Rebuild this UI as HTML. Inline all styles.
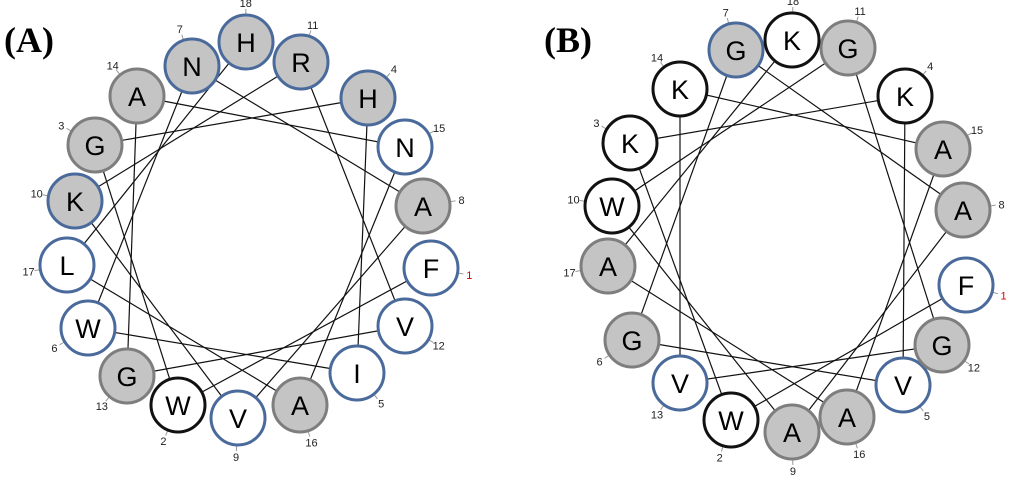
<!DOCTYPE html>
<html><head><meta charset="utf-8"><style>
body{margin:0;background:#fff;width:1024px;height:488px;overflow:hidden}
svg{display:block}
</style></head><body>
<svg id="s" width="1024" height="488" xmlns="http://www.w3.org/2000/svg">
<text x="4" y="52" font-family="Liberation Serif,serif" font-weight="bold" font-size="36">(A)</text>
<text x="544" y="52" font-family="Liberation Serif,serif" font-weight="bold" font-size="36">(B)</text>
</svg>
<script>
var ns="http://www.w3.org/2000/svg",s=document.getElementById('s');
function el(t,a,txt){var e=document.createElementNS(ns,t);for(var k in a)e.setAttribute(k,a[k]);if(txt!=null)e.textContent=txt;s.appendChild(e);return e;}
var A={c:[247,234],r:[
[1,'F',431,268,'wb'],[2,'W',178,405,'wk'],[3,'G',95,145,'g'],[4,'H',368,98,'gb'],[5,'I',357,373,'wb'],
[6,'W',88,328,'wb'],[7,'N',192,66,'gb'],[8,'A',423,206,'g'],[9,'V',238,418,'wb'],[10,'K',75,201,'gb'],
[11,'R',301,62,'gb'],[12,'V',405,326,'wb'],[13,'G',127,376,'g'],[14,'A',137,96,'g'],[15,'N',405,147,'wb'],
[16,'A',300,405,'g'],[17,'L',67,265,'wb'],[18,'H',246,42,'gb']]};
var B={c:[787,236],r:[
[1,'F',966,285,'wb'],[2,'W',731,420,'wk'],[3,'K',630,143,'wk'],[4,'K',905,96,'wk'],[5,'V',903,385,'wb'],
[6,'G',632,340,'g'],[7,'G',736,50,'gb'],[8,'A',963,210,'g'],[9,'A',792,432,'g'],[10,'W',612,206,'wk'],
[11,'G',848,48,'g'],[12,'G',942,345,'g'],[13,'V',680,383,'wb'],[14,'K',680,89,'wk'],[15,'A',943,149,'g'],
[16,'A',847,417,'g'],[17,'A',608,266,'g'],[18,'K',792,40,'wk']]};
var st={g:['#c4c4c4','#7e7e7e'],gb:['#c4c4c4','#4a6a9c'],wb:['#fff','#4a6a9c'],wk:['#fff','#111']};
[A,B].forEach(function(P){
 var r=P.r,c=P.c;
 for(var i=0;i<r.length-1;i++)el('line',{x1:r[i][2],y1:r[i][3],x2:r[i+1][2],y2:r[i+1][3],stroke:'#111','stroke-width':1.2});
 r.forEach(function(d){
  var dx=d[2]-c[0],dy=d[3]-c[1],L=Math.sqrt(dx*dx+dy*dy);dx/=L;dy/=L;
  var lx=d[2]+dx*39,ly=d[3]+dy*39;
  el('line',{x1:d[2]+dx*28,y1:d[3]+dy*28,x2:d[2]+dx*33,y2:d[3]+dy*33,stroke:'#999','stroke-width':1});
  el('text',{x:lx,y:ly+4,'text-anchor':'middle','font-family':'Liberation Sans,sans-serif','font-size':11,fill:d[0]==1?'#d00':'#222'},d[0]);
  var k=st[d[4]];
  el('circle',{cx:d[2],cy:d[3],r:27,fill:k[0],stroke:k[1],'stroke-width':3});
  el('text',{x:d[2],y:d[3]+10,'text-anchor':'middle','font-family':'Liberation Sans,sans-serif','font-size':27,fill:'#000'},d[1]);
 });
});
</script>
</body></html>
